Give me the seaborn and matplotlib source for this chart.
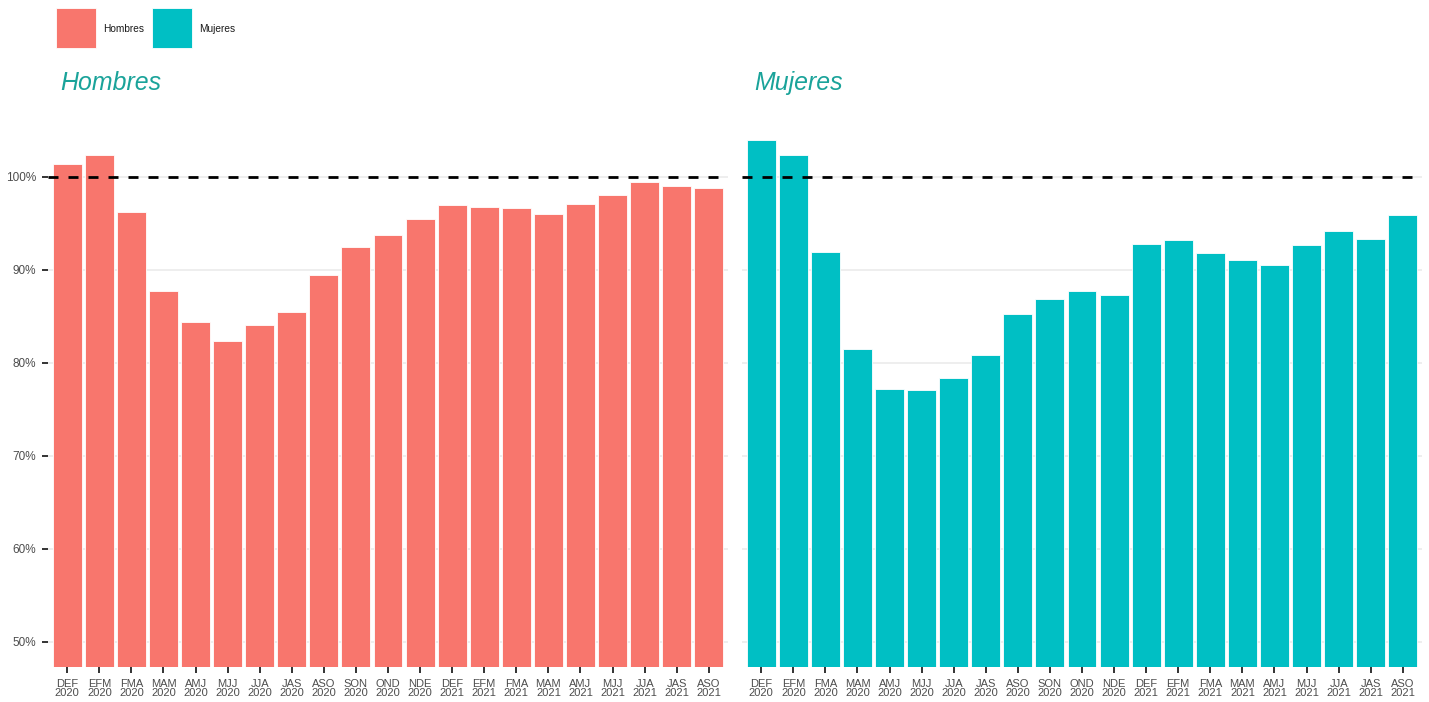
import matplotlib
matplotlib.use("Agg")
import matplotlib.pyplot as plt
import seaborn as sns
import pandas as pd
from matplotlib.patches import Rectangle
from matplotlib.ticker import FuncFormatter

periods = ["DEF\n2020", "EFM\n2020", "FMA\n2020", "MAM\n2020", "AMJ\n2020", "MJJ\n2020",
           "JJA\n2020", "JAS\n2020", "ASO\n2020", "SON\n2020", "OND\n2020", "NDE\n2020",
           "DEF\n2021", "EFM\n2021", "FMA\n2021", "MAM\n2021", "AMJ\n2021", "MJJ\n2021",
           "JJA\n2021", "JAS\n2021", "ASO\n2021"]
hombres = [101.4, 102.3, 96.2, 87.7, 84.4, 82.4, 84.1, 85.5, 89.4, 92.5, 93.8, 95.5,
           97.0, 96.8, 96.7, 96.0, 97.1, 98.1, 99.4, 99.0, 98.8]
mujeres = [104.0, 102.4, 91.9, 81.5, 77.2, 77.1, 78.4, 80.8, 85.3, 86.9, 87.7, 87.3,
           92.8, 93.2, 91.8, 91.1, 90.5, 92.7, 94.2, 93.3, 95.9]
series_names = ["Hombres", "Mujeres"]
colors = ["#F8766D", "#00BFC4"]
yticks = [50, 60, 70, 80, 90, 100]

sns.set_theme(style="white")
plt.rcParams['font.family'] = ['Liberation Sans', 'DejaVu Sans']

W, H = 1429, 702
fig = plt.figure(figsize=(W / 100, H / 100), dpi=100)
ax1 = fig.add_axes([48 / W, 1 - 667 / H, (728 - 48) / W, (667 - 135) / H])
ax2 = fig.add_axes([742 / W, 1 - 667 / H, (1422 - 742) / W, (667 - 135) / H])

for ax, vals, name, col, show_y in [(ax1, hombres, series_names[0], colors[0], True),
                                     (ax2, mujeres, series_names[1], colors[1], False)]:
    df = pd.DataFrame({"periodo": periods, "valor": vals})
    sns.barplot(data=df, x="periodo", y="valor", color=col, width=0.9,
                edgecolor="white", linewidth=0.6, saturation=1, ax=ax)
    ax.set_ylim(47.3, 104.5)
    ax.set_xlim(-0.6, len(periods) - 0.4)
    ax.set_yticks(yticks)
    ax.yaxis.grid(True, color="#EBEBEB", linewidth=1.2)
    ax.set_axisbelow(True)
    ax.axhline(100, color="black", linestyle=(0, (3.6, 3.6)), linewidth=2.0, zorder=5)
    for s in ax.spines.values():
        s.set_visible(False)
    ax.set_xlabel("")
    ax.set_ylabel("")
    ax.tick_params(axis="x", bottom=True, length=4.3, width=1.4, color="#333333",
                   labelsize=8, labelcolor="#4D4D4D", pad=4)
    if show_y:
        ax.yaxis.set_major_formatter(FuncFormatter(lambda v, p: f"{v:.0f}%"))
        ax.tick_params(axis="y", left=True, length=4.3, width=1.4, color="#333333",
                       labelsize=8.5, labelcolor="#4D4D4D", pad=4)
    else:
        ax.tick_params(axis="y", left=False, labelleft=False)
    for lab in ax.get_xticklabels():
        lab.set_linespacing(0.95)

fig.text(60 / W, 1 - 83 / H, "Hombres", fontsize=17.9, style="italic", color="#1AA39A",
         va="center", ha="left")
fig.text(754 / W, 1 - 83 / H, "Mujeres", fontsize=17.9, style="italic", color="#1AA39A",
         va="center", ha="left")

# legend keys
key_x = [56, 152]
for x0, c, n in zip(key_x, colors, series_names):
    fig.add_artist(Rectangle((x0 / W, 1 - 48 / H), 40 / W, 40 / H, transform=fig.transFigure,
                             facecolor=c, edgecolor="white", linewidth=0.6))
    fig.text((x0 + 47) / W, 1 - 29 / H, n, fontsize=7.3, color="#1A1A1A",
             va="center", ha="left")

fig.savefig("out.png", dpi=100, facecolor="white")
